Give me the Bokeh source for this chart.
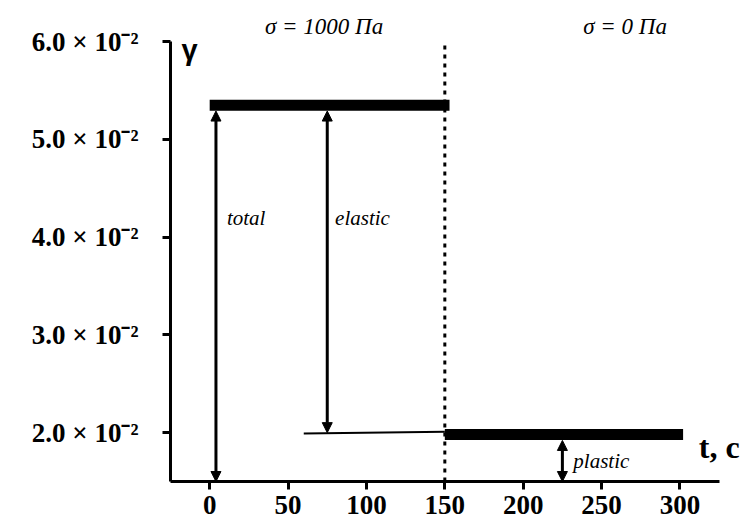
from bokeh.plotting import figure
from bokeh.models import ColumnDataSource, FixedTicker, Arrow, NormalHead, Range1d
from bokeh.core.properties import value
from bokeh.embed import file_html
from bokeh.resources import INLINE

# ---- data ----
x_ticks = [0, 50, 100, 150, 200, 250, 300]
y_ticks = [0.02, 0.03, 0.04, 0.05, 0.06]
y_tick_labels = ["2.0 × 10⁻²", "3.0 × 10⁻²", "4.0 × 10⁻²", "5.0 × 10⁻²", "6.0 × 10⁻²"]

load_t = [0, 153]            # loading stage, sigma = 1000 Pa
load_gamma = [0.0535, 0.0535]
recov_t = [60, 150]          # thin line
recov_gamma = [0.0199, 0.0201]
unload_t = [150, 302]        # unloading stage, sigma = 0 Pa
unload_gamma = [0.0198, 0.0198]
switch_t = [150]
switch_gamma_lo = [0.015]
switch_gamma_hi = [0.0598]

arrow_names = ["total", "elastic", "plastic"]
arrow_t = [4, 75, 225]
arrow_top = [0.0529, 0.0529, 0.0192]
arrow_bottom = [0.015, 0.0200, 0.015]
label_t = [11, 80, 232]
label_gamma = [0.042, 0.042, 0.0171]

stress_labels = ["σ = 1000 Па", "σ = 0 Па"]
stress_t = [73, 265]
stress_gamma = [0.0616, 0.0616]

x_lo, x_hi = -25, 325
y_lo, y_hi = 0.015, 0.06

p = figure(width=750, height=522, output_backend="svg", toolbar_location=None,
           x_range=Range1d(x_lo, 345), y_range=Range1d(y_lo, 0.0637),
           min_border_left=170, min_border_right=0, min_border_top=5, min_border_bottom=41)
p.outline_line_color = None
p.xgrid.grid_line_color = None
p.ygrid.grid_line_color = None
p.background_fill_color = "white"

for ax in (p.xaxis[0], p.yaxis[0]):
    ax.axis_line_width = 3
    ax.major_tick_line_width = 3
    ax.major_tick_in = 0
    ax.major_tick_out = 8
    ax.minor_tick_line_color = None
    ax.major_label_text_font = "Liberation Serif"
    ax.major_label_text_font_style = "bold"
    ax.major_label_text_font_size = "27px"
    ax.major_label_text_color = "black"

p.xaxis[0].ticker = FixedTicker(ticks=x_ticks)
p.xaxis[0].bounds = (x_lo, x_hi)
p.xaxis[0].major_label_standoff = 6
p.yaxis[0].ticker = FixedTicker(ticks=y_ticks)
p.yaxis[0].bounds = (y_lo, y_hi)
p.yaxis[0].major_label_standoff = 24
p.yaxis[0].major_label_overrides = {t: s for t, s in zip(y_ticks, y_tick_labels)}

# stage switch (dashed)
p.segment(x0=switch_t, y0=switch_gamma_lo, x1=switch_t, y1=switch_gamma_hi,
          line_color="black", line_width=3, line_dash="4 5")

# curves
p.line(load_t, load_gamma, line_color="black", line_width=11, line_cap="butt")
p.line(recov_t, recov_gamma, line_color="black", line_width=2)
p.line(unload_t, unload_gamma, line_color="black", line_width=11, line_cap="butt")

# double arrows
asrc = ColumnDataSource(dict(x0=arrow_t, y0=arrow_top, x1=arrow_t, y1=arrow_bottom))
p.add_layout(Arrow(source=asrc, x_start="x0", y_start="y0", x_end="x1", y_end="y1",
                   line_width=3, line_color="black",
                   start=NormalHead(size=10, fill_color="black", line_color="black"),
                   end=NormalHead(size=10, fill_color="black", line_color="black")))

# annotation texts
p.text(x=label_t, y=label_gamma, text=arrow_names, text_font=value("Liberation Serif"),
       text_font_style="italic", text_font_size="21px", text_color="black",
       text_align="left", text_baseline="middle")
p.text(x=stress_t, y=stress_gamma, text=stress_labels, text_font=value("Liberation Serif"),
       text_font_style="italic", text_font_size="23px", text_color="black",
       text_align="center", text_baseline="middle")

# axis names
p.text(x=[-18], y=[0.0591], text=["γ"], text_font=value("Liberation Sans"),
       text_font_style="bold", text_font_size="29px", text_color="black",
       text_align="left", text_baseline="middle")
p.text(x=[312], y=[0.0185], text=["t, с"], text_font=value("Liberation Serif"),
       text_font_style="bold", text_font_size="32px", text_color="black",
       text_align="left", text_baseline="alphabetic")

open("out.html", "w").write(file_html(p, INLINE))
